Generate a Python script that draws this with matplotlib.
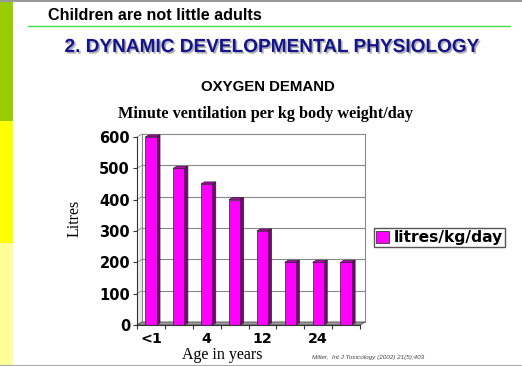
import numpy as np
import matplotlib
matplotlib.use("Agg")
import matplotlib.pyplot as plt
import matplotlib.patheffects as pe
from matplotlib.patches import Rectangle, Polygon, Patch

# data
ages = ["<1", "", "4", "", "12", "", "24", ""]
litres = [600, 500, 450, 400, 300, 200, 200, 200]
yticks = [0, 100, 200, 300, 400, 500, 600]

W, H = 522, 366
fig = plt.figure(figsize=(W / 100, H / 100), dpi=100)
fig.patch.set_facecolor("white")

def fx(px):
    return px / W

def fy(py):
    return 1 - py / H

# slide decoration
deco = fig.add_axes([0, 0, 1, 1])
deco.set_xlim(0, W)
deco.set_ylim(H, 0)
deco.axis("off")
deco.add_patch(Rectangle((0, 0), 13, 121, color="#99cc00", lw=0))
deco.add_patch(Rectangle((0, 121), 13, 122, color="#ffff00", lw=0))
deco.add_patch(Rectangle((0, 243), 13, 123, color="#ffff99", lw=0))
deco.plot([0, W], [0.5, 0.5], color="#999999", lw=1.5)
deco.plot([0, W], [365.5, 365.5], color="#aaaaaa", lw=1.5)
deco.plot([28, 510], [25.8, 25.8], color="#44dd44", lw=1)

fig.text(fx(48), fy(15), "Children are not little adults", fontsize=11.6,
         fontweight="bold", family="Liberation Sans", va="center")
fig.text(fx(271), fy(47.5), "2. DYNAMIC DEVELOPMENTAL PHYSIOLOGY", fontsize=13.7,
         fontweight="bold", family="Liberation Sans", va="center", ha="center",
         color="#14148f",
         path_effects=[pe.SimplePatchShadow(offset=(1.2, -1.2), shadow_rgbFace="#b0b0b0", alpha=1),
                       pe.Normal()])
fig.text(fx(268), fy(87), "OXYGEN DEMAND", fontsize=10.8, fontweight="bold",
         family="Liberation Sans", va="center", ha="center")
fig.text(fx(265), fy(114), "Minute ventilation per kg body weight/day", fontsize=11.7,
         fontweight="bold", family="Liberation Serif", va="center", ha="center")
fig.text(fx(75), fy(218), "Litres", fontsize=11.5, family="Liberation Serif",
         rotation=90, va="center", ha="center")
fig.text(fx(222), fy(359), "Age in years", fontsize=11.5, family="Liberation Serif",
         va="baseline", ha="center")
fig.text(fx(312), fy(357.5), "Miller,  Int J Toxicology (2002) 21(5);403", fontsize=4.6,
         style="italic", family="Liberation Sans", va="center", color="#444444")

# chart front plane
left, right, top, bottom = 137, 360, 137, 325
ax = fig.add_axes([fx(left), fy(bottom), fx(right - left), (bottom - top) / H])
ax.set_xlim(-0.5, len(litres) - 0.5)
ax.set_ylim(0, 600)
ax.patch.set_alpha(0)
for s in ["top", "right", "bottom"]:
    ax.spines[s].set_visible(False)
ax.spines["left"].set_color("#333333")
ax.spines["left"].set_linewidth(0.8)

# depth offset in data units
xpp = len(litres) / (right - left)
ypp = 600 / (bottom - top)
ddx, ddy = 5 * xpp, 3 * ypp
x0, x1 = -0.5, len(litres) - 0.5

# back wall gridlines and edges
for v in yticks:
    ax.plot([x0 + ddx, x1 + ddx], [v + ddy, v + ddy], color="#888888", lw=0.8,
            clip_on=False, zorder=1)
    ax.plot([x0, x0 + ddx], [v, v + ddy], color="#888888", lw=0.6,
            clip_on=False, zorder=1)
ax.plot([x0 + ddx, x0 + ddx], [ddy, 600 + ddy], color="#888888", lw=0.8, clip_on=False)
ax.plot([x1 + ddx, x1 + ddx], [ddy, 600 + ddy], color="#888888", lw=0.8, clip_on=False)
ax.add_patch(Polygon([[x0, 0], [x0 + ddx, 600 + ddy], [x0 + ddx, ddy]],
                     closed=True, facecolor="#e8e8e8", edgecolor="none", zorder=0,
                     clip_on=False))
ax.add_patch(Polygon([[x0, 0], [x1, 0], [x1 + ddx, ddy], [x0 + ddx, ddy]],
                     closed=True, facecolor="#999999", edgecolor="#555555", lw=0.6,
                     zorder=2, clip_on=False))

# 3d-ish columns
bw = 0.4
face, side, topc = "#ff00ff", "#800080", "#c000c0"
for i, v in enumerate(litres):
    xl, xr = i - bw / 2, i + bw / 2
    ax.add_patch(Rectangle((xl, 0), bw, v, facecolor=face, edgecolor="#222222",
                           lw=0.5, zorder=4, clip_on=False))
    ax.add_patch(Polygon([[xr, 0], [xr + ddx * 0.7, ddy * 0.7], [xr + ddx * 0.7, v + ddy * 0.7], [xr, v]],
                         closed=True, facecolor=side, edgecolor="#222222", lw=0.5,
                         zorder=3, clip_on=False))
    ax.add_patch(Polygon([[xl, v], [xr, v], [xr + ddx * 0.7, v + ddy * 0.7], [xl + ddx * 0.7, v + ddy * 0.7]],
                         closed=True, facecolor=topc, edgecolor="#222222", lw=0.5,
                         zorder=3, clip_on=False))

ax.set_yticks(yticks)
ax.set_yticklabels([str(t) for t in yticks], fontsize=10.5, fontweight="bold",
                   family="DejaVu Sans")
ax.tick_params(axis="y", length=3, width=0.8, pad=2, color="#333333")
ax.set_xticks(range(len(ages)))
ax.set_xticklabels(ages, fontsize=10.3, fontweight="bold", family="DejaVu Sans")
ax.set_xticks(np.arange(len(ages) + 1) - 0.5, minor=True)
ax.tick_params(axis="x", which="major", length=0, pad=5)
ax.tick_params(axis="x", which="minor", length=3, width=0.8, color="#333333")
ax.plot([x0, x1], [0, 0], color="#333333", lw=0.8, clip_on=False, zorder=5)

fig.legend(handles=[Patch(facecolor=face, edgecolor="#222222", lw=0.5)],
           labels=["litres/kg/day"], loc="center left",
           bbox_to_anchor=(fx(374), fy(237.5)), frameon=True, fancybox=False,
           edgecolor="#555555", framealpha=1, borderpad=0.15, handlelength=0.8,
           handleheight=0.8, handletextpad=0.3, borderaxespad=0,
           prop={"family": "DejaVu Sans", "weight": "bold", "size": 11.2})

fig.savefig("out.png", dpi=100)
